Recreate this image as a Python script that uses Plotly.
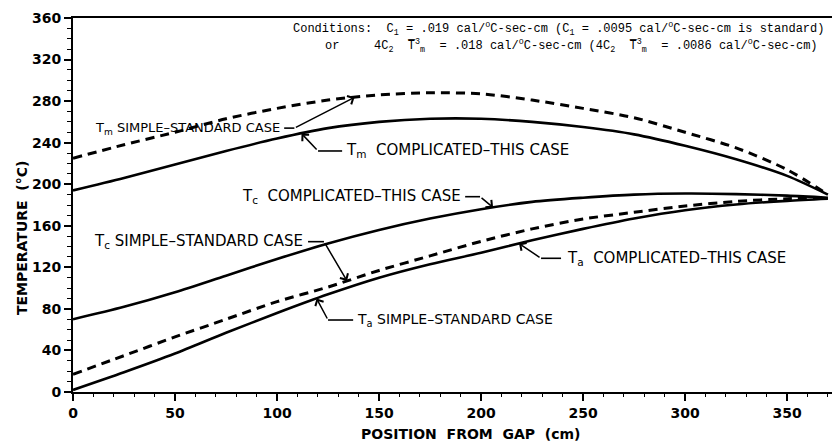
import numpy as np
import plotly.graph_objects as go

# ---------------- data ----------------
position_cm = [0, 25, 50, 75, 100, 125, 150, 175, 200, 225, 250, 275, 300, 325, 350, 370]

tm_simple = [225, 238, 250, 263, 273, 281, 286, 288, 287, 281, 273, 264, 250, 235, 214, 190]
tm_complicated = [194, 206, 219, 232, 244, 254, 260, 263, 263, 260, 255, 248, 237, 224, 208, 190]
tc_complicated = [70, 82, 96, 112, 128, 143, 156, 167, 176, 183, 187, 190, 191, 190.5, 189, 187]
tc_simple = [17, 35, 53, 70, 87, 101, 117, 131, 145, 157, 166.5, 173, 179, 183.5, 186, 187]
ta_curve = [2, 19, 37, 57, 76, 94, 110, 123, 134, 146, 157, 167, 175, 180.5, 184, 186]

x_ticks = [0, 50, 100, 150, 200, 250, 300, 350]
y_ticks = [0, 40, 80, 120, 160, 200, 240, 280, 320, 360]

LETTER = dict(family="DejaVu Sans", size=15, color="black")
TICKF = dict(family="DejaVu Sans", size=14, color="black", weight="bold")
TITLEF = dict(family="DejaVu Sans", size=14, color="black", weight="bold")
TYPE = dict(family="Liberation Mono", size=12, color="black")

fig = go.Figure()

def add_curve(y, dashed):
    fig.add_trace(go.Scatter(
        x=position_cm, y=y, mode="lines",
        line=dict(color="black", width=3 if dashed else 2.6,
                  dash="9px,6px" if dashed else "solid", shape="spline", smoothing=0.8),
        showlegend=False, hoverinfo="skip"))

add_curve(tm_simple, True)
add_curve(tm_complicated, False)
add_curve(tc_complicated, False)
add_curve(tc_simple, True)
add_curve(ta_curve, False)

# ------------- labels with leader lines -------------
def on_curve(series, x):
    return float(np.interp(x, position_cm, series))

def label(text, tx, ty, anchor, h0, h1, tip_x, series, size=15):
    fig.add_annotation(x=tx, y=ty, text=text, showarrow=False, xanchor=anchor,
                       yanchor="middle", font=dict(LETTER, size=size))
    fig.add_shape(type="line", x0=h0, x1=h1, y0=ty, y1=ty,
                  line=dict(color="black", width=1.6))
    start_x = h1 if anchor == "right" else h0
    fig.add_annotation(x=tip_x, y=on_curve(series, tip_x), ax=start_x, ay=ty,
                       axref="x", ayref="y", xref="x", yref="y", text="",
                       showarrow=True, arrowhead=4, arrowsize=1.2, arrowwidth=1.5,
                       arrowcolor="black")

label("T<sub>m</sub> SIMPLE–STANDARD CASE", 102.5, 254, "right", 103.5, 108.5, 138, tm_simple, size=13)
label("T<sub>m</sub>  COMPLICATED–THIS CASE", 132.8, 232, "left", 120.1, 131.9, 112, tm_complicated)
label("T<sub>c</sub>  COMPLICATED–THIS CASE", 191.2, 188, "right", 192.2, 199.5, 205.9, tc_complicated)
label("T<sub>c</sub> SIMPLE–STANDARD CASE", 113.7, 144.7, "right", 115.2, 123, 134.3, tc_simple)
label("T<sub>a</sub>  COMPLICATED–THIS CASE", 241.2, 128.7, "left", 229.4, 239.2, 218.6, ta_curve)
label("T<sub>a</sub> SIMPLE–STANDARD CASE", 138.2, 69.3, "left", 125, 137.3, 119.4, ta_curve, size=14)

# ------------- conditions text -------------
fig.add_annotation(xref="paper", yref="paper", x=0.287, y=0.97, xanchor="left", yanchor="middle",
                   text="Conditions:  C<sub>1</sub> = .019 cal/<sup>o</sup>C-sec-cm (C<sub>1</sub> = .0095 cal/<sup>o</sup>C-sec-cm is standard)",
                   showarrow=False, font=TYPE)
fig.add_annotation(xref="paper", yref="paper", x=0.329, y=0.925, xanchor="left", yanchor="middle",
                   text="or", showarrow=False, font=TYPE)
fig.add_annotation(xref="paper", yref="paper", x=0.394, y=0.925, xanchor="left", yanchor="middle",
                   text="4C<sub>2</sub>  T\u0305<sup>3</sup><sub>m</sub>  = .018 cal/<sup>o</sup>C-sec-cm (4C<sub>2</sub>  T\u0305<sup>3</sup><sub>m</sub>  = .0086 cal/<sup>o</sup>C-sec-cm)",
                   showarrow=False, font=TYPE)

# ------------- axis titles -------------
fig.add_annotation(xref="paper", yref="paper", x=-0.067, y=0.412, text="TEMPERATURE  (°C)",
                   textangle=-90, showarrow=False, font=TITLEF, xanchor="center", yanchor="middle")
fig.add_annotation(xref="paper", yref="paper", x=0.524, y=-0.112, text="POSITION  FROM  GAP  (cm)",
                   showarrow=False, font=TITLEF, xanchor="center", yanchor="middle")

fig.update_layout(
    width=832, height=448,
    margin=dict(l=73, r=0, t=18, b=56),
    paper_bgcolor="white", plot_bgcolor="white",
    xaxis=dict(range=[0, 372], tickvals=x_ticks, ticktext=[str(v) for v in x_ticks],
               showgrid=False, zeroline=False, showline=True, linecolor="black", linewidth=2,
               mirror=True, ticks="outside", ticklen=7, tickwidth=1.5, tickcolor="black",
               minor=dict(dtick=10, ticks="outside", ticklen=3, tickwidth=1, tickcolor="black"),
               tickfont=TICKF),
    yaxis=dict(range=[0, 360], tickvals=y_ticks, ticktext=[str(v) for v in y_ticks],
               showgrid=False, zeroline=False, showline=True, linecolor="black", linewidth=2,
               ticks="outside", ticklen=7, tickwidth=1.5, tickcolor="black",
               minor=dict(dtick=10, ticks="outside", ticklen=4, tickwidth=1, tickcolor="black"),
               tickfont=TICKF),
)

fig.write_html("out.html", config={"displayModeBar": False},
               post_script="document.body.style.margin='0px';")
